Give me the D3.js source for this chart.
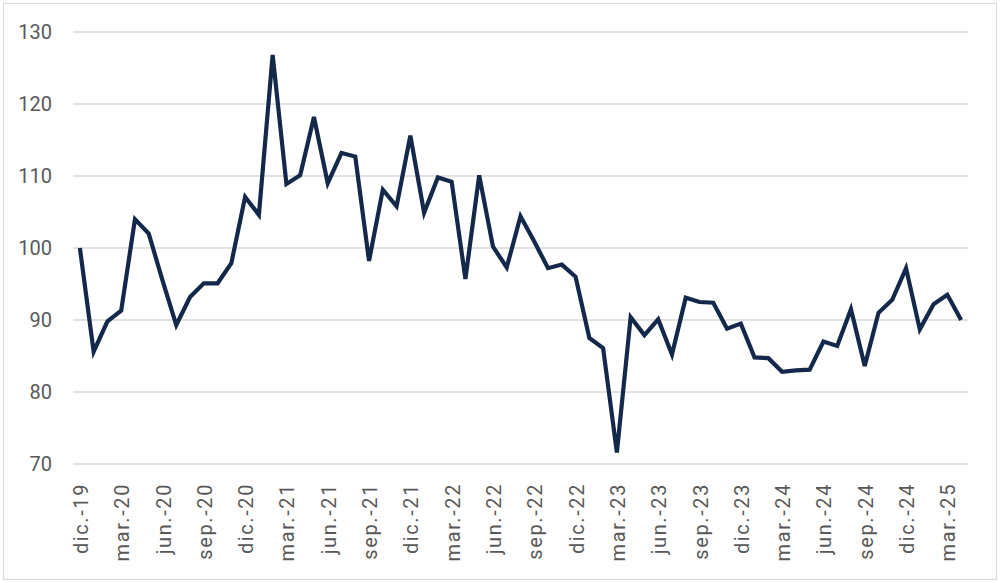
<!DOCTYPE html>
<html>
<head>
<meta charset="utf-8">
<script src="https://cdn.jsdelivr.net/npm/d3@7"></script>
<style>
  body { margin: 0; background: #fff; }
  svg { display: block; }
</style>
</head>
<body>
<svg id="chart" width="1000" height="583"></svg>
<script>
// meses: dic.-19 .. abr.-25
const monthNames = ["ene.", "feb.", "mar.", "abr.", "may.", "jun.", "jul.", "ago.", "sep.", "oct.", "nov.", "dic."];

const values = [
    100.0, 85.6, 89.8, 91.3, 104.0, 102.0, 95.5, 89.3, 93.2, 95.1,
    95.1, 97.9, 107.1, 104.6, 126.8, 108.9, 110.1, 118.2, 109.0, 113.2,
    112.7, 98.2, 108.1, 105.8, 115.6, 104.9, 109.8, 109.2, 95.7, 110.1,
    100.2, 97.3, 104.4, 100.9, 97.2, 97.7, 96.0, 87.5, 86.1, 71.6,
    90.4, 87.9, 90.1, 85.2, 93.1, 92.5, 92.4, 88.8, 89.5, 84.8,
    84.7, 82.8, 83.0, 83.1, 87.0, 86.4, 91.5, 83.6, 91.0, 92.8,
    97.2, 88.7, 92.2, 93.5, 90.0
];

const yTicks = [70, 80, 90, 100, 110, 120, 130];

// category labels, first month is dic. 2019
const categories = values.map((v, i) => {
    const m = (11 + i) % 12;
    const yr = 19 + Math.floor((11 + i) / 12);
    return monthNames[m] + "-" + yr;
});

const width = 1000;
const height = 583;
const margin = ({top: 32, right: 32, bottom: 119, left: 73});

const svg = d3.select("#chart");

// outer frame
svg.append("rect")
    .attr("x", 3.5)
    .attr("y", 3.5)
    .attr("width", width - 7)
    .attr("height", height - 7)
    .attr("fill", "#fff")
    .attr("stroke", "#d9d9d9")
    .attr("stroke-width", 1);

const x = d3.scaleBand()
    .domain(categories)
    .range([margin.left, width - margin.right]);

const y = d3.scaleLinear()
    .domain([70, 130])
    .range([height - margin.bottom, margin.top]);

const grid = g => g
    .selectAll("line")
    .data(yTicks)
    .join("line")
    .attr("x1", margin.left)
    .attr("x2", width - margin.right)
    .attr("y1", d => y(d))
    .attr("y2", d => y(d))
    .attr("stroke", "#d9d9d9")
    .attr("stroke-width", 1.3);

const yAxis = g => g
    .attr("transform", `translate(${margin.left},0)`)
    .call(d3.axisLeft(y).tickValues(yTicks).tickSize(0).tickPadding(21))
    .call(g => g.select(".domain").remove())
    .call(g => g.selectAll("text")
        .attr("font-family", "Roboto, sans-serif")
        .attr("font-size", 20)
        .attr("fill", "#595959"));

const xAxis = g => g
    .attr("transform", `translate(0,${height - margin.bottom})`)
    .call(d3.axisBottom(x)
        .tickValues(categories.filter((d, i) => i % 3 === 0))
        .tickSize(0))
    .call(g => g.select(".domain").remove())
    .call(g => g.selectAll("text")
        .attr("font-family", "Roboto, sans-serif")
        .attr("font-size", 20)
        .attr("letter-spacing", 1.6)
        .attr("fill", "#595959")
        .attr("text-anchor", "end")
        .attr("dy", "0.35em")
        .attr("transform", "translate(1,19) rotate(-90)")
        .attr("x", 0)
        .attr("y", 0));

svg.append("g").call(grid);
svg.append("g").call(yAxis);
svg.append("g").call(xAxis);

const line = d3.line()
    .x((d, i) => x(categories[i]) + x.bandwidth() / 2)
    .y(d => y(d));

svg.append("path")
    .datum(values)
    .attr("fill", "none")
    .attr("stroke", "#13284a")
    .attr("stroke-width", 4.2)
    .attr("stroke-linejoin", "miter")
    .attr("d", line);
</script>
</body>
</html>
